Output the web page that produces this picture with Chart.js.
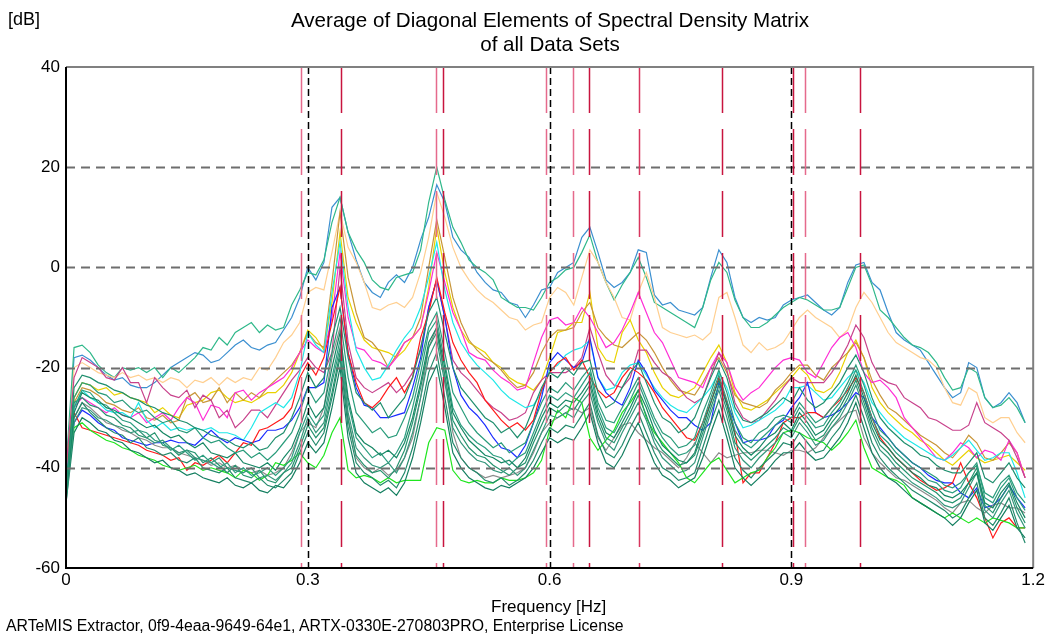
<!DOCTYPE html>
<html>
<head>
<meta charset="utf-8">
<script src="https://cdn.jsdelivr.net/npm/chart.js@4.4.0/dist/chart.umd.min.js"></script>
<style>
  body { margin: 0; background: #fff; font-family: "Liberation Sans", Arial, sans-serif; }
  #wrap { position: relative; width: 1047px; height: 637px; }
  #psd { position: absolute; left: 0; top: 0; }
  .txt { position: absolute; color: #000; white-space: nowrap; }
  #title { left: 0; width: 1100px; top: 8px; text-align: center; font-size: 20.6px; line-height: 24px; }
  #unit { left: 8px; top: 9px; font-size: 18px; }
  #xlabel { left: 491px; top: 597px; font-size: 17px; }
  #footer { left: 6px; top: 617px; font-size: 15.8px; }
</style>
</head>
<body>
<div id="wrap">
  <canvas id="psd" width="1047" height="637"></canvas>
  <div class="txt" id="title">Average of Diagonal Elements of Spectral Density Matrix<br>of all Data Sets</div>
  <div class="txt" id="unit">[dB]</div>
  <div class="txt" id="xlabel">Frequency [Hz]</div>
  <div class="txt" id="footer">ARTeMIS Extractor, 0f9-4eaa-9649-64e1, ARTX-0330E-270803PRO, Enterprise License</div>
</div>
<script>
// frequency grid [Hz]
const freqs = [
  0, 0.01, 0.02, 0.03, 0.04, 0.05, 0.06, 0.07, 0.08, 0.09,
  0.10, 0.11, 0.12, 0.13, 0.14, 0.15, 0.16, 0.17, 0.18, 0.19,
  0.20, 0.21, 0.22, 0.23, 0.24, 0.25, 0.26, 0.27, 0.28, 0.29,
  0.30, 0.31, 0.32, 0.33, 0.34, 0.35, 0.36, 0.37, 0.38, 0.39,
  0.40, 0.41, 0.42, 0.43, 0.44, 0.45, 0.46, 0.47, 0.48, 0.49,
  0.50, 0.51, 0.52, 0.53, 0.54, 0.55, 0.56, 0.57, 0.58, 0.59,
  0.60, 0.61, 0.62, 0.63, 0.64, 0.65, 0.66, 0.67, 0.68, 0.69,
  0.70, 0.71, 0.72, 0.73, 0.74, 0.75, 0.76, 0.77, 0.78, 0.79,
  0.80, 0.81, 0.82, 0.83, 0.84, 0.85, 0.86, 0.87, 0.88, 0.89,
  0.90, 0.91, 0.92, 0.93, 0.94, 0.95, 0.96, 0.97, 0.98, 0.99,
  1.00, 1.01, 1.02, 1.03, 1.04, 1.05, 1.06, 1.07, 1.08, 1.09,
  1.10, 1.11, 1.12, 1.13, 1.14, 1.15, 1.16, 1.17, 1.18, 1.19
];

// spectral density per data set [dB]
const setBlueTop = [
  -42, -18, -17.5, -18.5, -20, -21.5, -22.5, -22, -23.5, -24,
  -24, -23, -21.5, -20, -19, -18, -17, -17.5, -19, -18.5,
  -17, -15.5, -14.5, -16, -16.5, -15.5, -15, -12.5, -10, -6,
  0, -2.5, 1, 12, 14, 7, 1.5, -3, -5, -6,
  -3, -1.5, -3, 0, 5.5, 10, 16.5, 13, 6, 3.5,
  2, -1, -3, -4.5, -5, -7, -7.5, -10, -7.5, -4.5,
  -4, -1, 0, 1, 6, 8, 3, -2.5, -4, -3,
  -1, 3.5, 3, -5.5, -7.5, -7, -8.5, -9, -9.5, -8,
  -2, 3.5, 1, -6, -10, -11, -10, -10.5, -10, -7.5,
  -6.5, -6, -5.5, -7, -8.5, -9.5, -8, -3, 0.5, 1,
  -3, -4.5, -9, -13, -14.5, -15.5, -16.5, -19, -21.5, -24,
  -26, -25, -19, -20, -26, -28, -27, -25, -27, -31
];
const setTealTop = [
  -40, -16, -15.5, -17, -19.5, -21, -22, -20, -20.5, -20,
  -21, -20, -22, -20, -21, -19.5, -18, -16, -16.5, -14,
  -15.5, -13, -12, -11, -13, -11.5, -12.5, -12, -7.5, -4.5,
  -1, -1.5, 1.5, 9, 14, 7, 3.5, 1, -2.5, -4,
  -4.5, -2, -1.5, -1, 3.5, 13, 20, 13.5, 8, 5,
  1.5, 0, -1, -2.5, -6, -7, -8, -8, -8.5, -6,
  -3, -2, -0.5, 0, 3, 6.5, 1, -3, -6.5, -3.5,
  -1, 2, -2, -7, -8, -9, -10, -11, -12, -8,
  -2.5, 1, -1, -6.5, -10, -12, -12, -11, -9.5, -8,
  -7, -6, -6.5, -7.5, -8.5, -8.5, -8, -4, 0, 0.5,
  -3.5, -8.5, -10, -12, -14, -15.5, -16, -17, -19, -22,
  -24.5, -24, -20, -21, -26, -28, -27.5, -26, -28, -31
];
const setPeach = [
  -42, -20, -19, -20, -21, -21.5, -22, -21, -22, -21.5,
  -22.5, -22, -23, -22, -22.5, -24, -22.5, -23, -22, -23.5,
  -22, -23, -22, -22.5, -20, -20.5, -18, -15, -13.5, -11,
  -5, -4, -4.5, 3, 11, 4, 1, -3, -8, -8.5,
  -7.5, -7, -8, -6, -1, 6, 15, 10, 4, 0,
  -2.5, -4.5, -6, -7, -8.5, -10, -10.5, -12.5, -11.5, -11,
  -6, -4, -5, -7.5, -2, 3.5, 1, -3, -6, -10,
  -10.5, -5, -1, -6, -12, -13, -13.5, -14, -13.5, -14.5,
  -13, -6, -5, -10, -15.5, -17, -15, -16.5, -16, -15,
  -12.5, -10, -8.5, -10, -11, -12, -14, -12.5, -8, -5,
  -7, -10, -13, -15, -16, -17, -18, -18.5, -20, -24,
  -27, -27.5, -24, -25, -30, -31, -30, -30, -33, -35
];
const setYellow = [
  -40, -26, -23, -23.5, -24.5, -24, -25.5, -25, -26, -26.5,
  -27, -29, -28, -29.5, -30, -27.5, -27, -26.5, -25, -24.5,
  -26, -27, -26.5, -27, -26, -25, -25, -23.5, -21, -17,
  -12.5, -14, -16.5, -7, 7, -6, -11, -14.5, -16, -16.5,
  -17, -18, -16.5, -14, -12, -4, 8, -1, -8, -12.5,
  -15, -16, -17, -19, -20, -22, -23, -23.5, -24.5, -22.5,
  -18, -13, -12.5, -11, -11, -5, -16, -18.5, -19, -13,
  -10.5, -14.5, -17, -21, -24, -25.5, -26, -25, -24, -21,
  -18, -15.5, -19, -25, -28, -28.5, -27.5, -26.5, -25, -23.5,
  -22, -20, -21.5, -24.5, -25, -24, -21, -17, -14.5, -18,
  -24, -27, -29, -30.5, -32, -33, -34.5, -35.5, -37, -38.5,
  -39.5, -38, -36.5, -38, -39, -38.5, -38, -37.5, -39, -40.5
];
const setGold = [
  -40, -27, -24, -24.5, -25.5, -27, -27.5, -28.5, -29, -28,
  -30, -30.5, -29.5, -31, -30.5, -26, -25, -27, -26.5, -24,
  -27, -25, -26.5, -25, -26, -24, -22.5, -21, -19.5, -17,
  -13, -15, -16, -3, 11, -2, -9, -14, -15, -17,
  -20, -17.5, -15, -14, -10, 0, 9.5, 2, -6, -11,
  -14.5, -16.5, -18, -19, -20.5, -22.5, -24, -23.5, -21, -17,
  -14, -12.5, -12.5, -12, -9, -7, -12, -14, -15.5, -16,
  -14.5, -13, -14.5, -17, -20, -22.5, -24.5, -25, -25.5, -23,
  -20, -18, -21, -25.5, -27, -27.5, -28, -27, -24.5, -23,
  -21, -19.5, -19.5, -21.5, -22.5, -20, -18.5, -17, -15, -18,
  -22.5, -25.5, -28, -29, -30.5, -32, -33.5, -34.5, -35.5, -37,
  -38, -36, -33.5, -35, -38, -38.5, -37, -35, -37, -42
];
const setMagenta = [
  -42, -28, -26, -27, -28, -29, -28, -29.5, -30, -29,
  -31, -30, -29, -30.5, -28, -26, -27, -30.5, -27.5, -28,
  -30, -25, -24.5, -26.5, -25, -24, -23, -22, -20, -17,
  -14.5, -16, -17, -10, 3, -10, -16, -16.5, -18.5, -19,
  -20, -18, -15, -14, -12, -5, 3, -3, -9, -12.5,
  -17, -18, -18.5, -20.5, -22, -23, -24.5, -24, -19, -14,
  -10.5, -10, -11.5, -11, -8, -10, -13, -16, -15, -12.5,
  -9, -5, -9, -13, -15, -18.5, -22, -22.5, -23, -24,
  -20, -17, -19, -24, -26.5, -25, -24, -22, -20, -18.5,
  -18, -18.5, -21, -22, -19, -16, -14, -13, -16, -21,
  -23, -22.5, -24, -26, -30, -32, -34, -36, -38, -38.5,
  -37, -35, -36, -38, -36.5, -37, -38.5, -34.5, -37, -42
];
const setPink = [
  -40, -22, -18, -19, -20, -22, -22.5, -20, -23, -23,
  -27, -22, -24, -25.5, -26, -24.5, -28, -25.5, -26.5, -30,
  -28.5, -32, -30.5, -28.5, -28.5, -30, -27.5, -25, -22.5, -20.5,
  -18, -20, -21, -17, 0, -15, -22, -24, -25, -24,
  -23, -25, -23.5, -21, -16.5, -8, -2.5, -10, -18.5, -21,
  -22.5, -24.5, -26.5, -28, -29, -30.5, -30, -29, -25, -22.5,
  -21, -21, -21, -20, -18, -12, -17, -21.5, -23.5, -24,
  -22, -16.5, -16.5, -19, -21, -22, -24, -26, -27, -26,
  -21.5, -17, -20.5, -27, -30, -31, -30.5, -28.5, -26.5, -24,
  -22, -23, -23, -23, -23, -21, -18.5, -15.5, -11.5, -14,
  -19, -22, -23, -23.5, -26, -27, -28, -30, -30.5, -31.5,
  -32.5, -32.5, -31.5, -27, -31, -32, -33, -34.5, -38, -42
];
const setCyan = [
  -44, -28, -24.5, -26, -27, -28.5, -29, -29, -30, -27,
  -30.5, -32, -31, -32.5, -32, -32.5, -32, -32.5, -32, -33,
  -33, -33.5, -34.5, -32, -29, -28, -27, -28, -26, -21,
  -13, -15.5, -17, -5, 5, -8, -16.5, -20, -22.5, -22,
  -19.5, -16.5, -14, -12, -8, -2, 5, -4.5, -11, -15,
  -17.5, -19.5, -21, -22.5, -24.5, -26, -27, -28, -27.5, -25,
  -20.5, -19.5, -17.5, -16.5, -16, -14.5, -22, -24.5, -24, -21,
  -19.5, -19, -21.5, -24, -26, -27.5, -28.5, -29, -27.5, -26,
  -24, -21, -24, -29, -32, -31.5, -30.5, -29.5, -28.5, -27,
  -24, -24, -23.5, -25, -26.5, -26, -24, -22, -20.5, -23,
  -27, -29, -31, -32.5, -34, -35, -36, -37, -38, -38.5,
  -37.5, -36, -34.5, -36.5, -38.5, -38, -37, -37, -41, -46
];
const setRed = [
  -45, -29, -32, -32.5, -33, -33.5, -34, -34.5, -35, -35.5,
  -36.5, -37, -37.5, -38.5, -38, -40.5, -39, -39.5, -38.5, -37.5,
  -39, -37, -35, -35.5, -32.5, -32, -31, -30, -28, -22,
  -19, -21.5, -18, -11, -4, -17, -23, -27, -28, -26.5,
  -24, -22, -25, -22, -14, -9, -2, -9, -15, -18.5,
  -21, -23, -26.5, -28.5, -30.5, -32, -31, -32.5, -30.5, -24.5,
  -21, -19, -18, -20.5, -18.5, -22, -24.5, -26, -25, -22,
  -20, -21, -22.5, -25, -28, -30, -32, -34, -34.5, -31,
  -27, -22, -27, -33, -43, -41, -41, -38, -35, -31,
  -30, -30, -29, -29, -30, -28, -26.5, -24.5, -22, -25,
  -30, -34, -36, -38, -39.5, -41, -42.5, -43.5, -44.5, -44,
  -43, -39, -43, -46, -50, -54, -51, -50, -52, -52
];
const setBlue = [
  -45, -31, -28.5, -29.5, -31, -32, -32.5, -34, -34.5, -35,
  -35.5, -35, -35, -34.5, -35, -35, -35.5, -34, -32.5, -34,
  -35, -34, -34.5, -35, -34.5, -32.5, -32.5, -32, -30.5, -28,
  -24, -24, -23, -8, -4, -17, -24, -27.5, -28, -30,
  -30, -29.5, -29, -24, -18, -8, -2.5, -10, -20, -25.5,
  -28, -29.5, -31.5, -34, -36, -36.5, -38, -35.5, -31, -26,
  -19, -17, -18.5, -20, -19, -14, -22, -25, -26.5, -27.5,
  -24, -18.5, -21, -24.5, -26.5, -28.5, -30, -30, -31.5, -32.5,
  -31, -23, -27, -31, -35, -34.5, -34.5, -34, -31.5, -30.5,
  -28, -26, -23, -29, -30, -29.5, -28.5, -27, -25, -26,
  -30, -32, -34, -36, -37.5, -39, -40, -41.5, -42.5, -43,
  -43, -45, -46, -44, -48, -47.5, -46, -43.5, -46, -48
];
const setGray = [
  -45, -30, -27, -28, -29.5, -31, -31.5, -32.5, -33, -34,
  -34.5, -35.5, -36, -36, -37, -37.5, -38, -38.5, -39.5, -39,
  -40, -39.5, -40.5, -41, -40.5, -41.5, -41, -40, -37, -33,
  -31, -32, -28, -18, -12, -30, -38, -40, -41, -40,
  -41.5, -40.5, -38, -34, -26, -16, -12, -22, -33, -38,
  -40, -41, -42, -41.5, -42, -41.5, -41, -40, -37, -33,
  -31, -30, -29, -28, -29, -28, -34, -36.5, -34, -31.5,
  -31, -33, -34.5, -36, -37, -38.5, -40, -38, -35, -37,
  -39, -37, -38, -37.5, -37, -37, -36.5, -36.5, -37, -37.5,
  -36.5, -36.5, -37, -36, -34, -32, -30.5, -29, -28.5, -34,
  -37, -39, -40.5, -42, -42.5, -43.5, -44.5, -45.5, -46.5, -48,
  -49, -47, -46.5, -48, -49, -47.5, -47, -48, -48, -49
];
const setLime = [
  -45, -32, -31, -32.5, -33.5, -34.5, -35, -36, -36.5, -37.5,
  -38, -38.5, -39.5, -40, -40.5, -40, -39.5, -40.5, -40, -40.5,
  -41, -42, -40.5, -41, -42.5, -41.5, -39, -39.5, -38.5, -37,
  -39, -40, -37.5, -33, -30, -40.5, -42, -41.5, -42, -43,
  -42, -43, -42.5, -42.5, -42.5, -35, -32, -32.5, -40.5, -42.5,
  -43, -42.5, -43, -43, -42, -42.5, -42.5, -42, -41, -38.5,
  -32.5, -28.5, -30, -26, -27, -34, -36.5, -34.5, -32.5, -29,
  -27, -24.5, -30, -33, -35, -37, -39, -42, -43, -41,
  -39, -38, -40.5, -43, -42, -41, -40.5, -38, -36, -33,
  -32.5, -33, -34, -34.5, -35, -36.5, -35, -33, -30.5, -36,
  -40, -41, -42, -42.5, -43.5, -46, -47, -48, -49, -50,
  -49, -50, -51, -50, -51, -50, -50.5, -51, -52, -52
];
const setGreen1 = [
  -44, -24, -21.5, -22, -23, -23.5, -24.5, -25, -26, -26.5,
  -27.5, -28, -29, -29.5, -30.5, -31, -32, -32.5, -33.5, -34,
  -34.5, -35.5, -36, -35, -36.5, -36, -34, -33, -30, -26,
  -21, -24, -22, -14, -8, -18, -25, -27, -28.5, -27,
  -30, -28, -26, -22, -16, -9, -6, -13, -20, -24,
  -26, -28, -30, -31, -33, -32, -34, -32, -28, -24,
  -21, -22, -20, -21.5, -19, -18.5, -25, -28, -27, -24,
  -21, -19, -23, -27, -30, -31, -33, -32, -30, -26,
  -22, -18.5, -22, -28, -30.5, -31, -30, -29, -27.5, -26,
  -27, -24, -26.5, -28, -27, -25, -23, -20, -17.5, -21,
  -26, -30, -32, -33.5, -35, -36, -37.5, -38, -39.5, -40.5,
  -41, -41, -39, -37, -42, -43, -41, -39, -42, -44
];
const setGreen2 = [
  -45, -26, -23, -23.5, -25, -25.5, -27, -26.5, -28, -29,
  -28.5, -30, -31, -30.5, -32.5, -33, -32, -34, -35, -34.5,
  -36, -37, -36.5, -38, -37, -38.5, -37, -35, -33, -29,
  -24, -27, -25, -17, -10, -22, -29, -31, -33, -32,
  -34, -33.5, -30, -26, -19, -12, -9, -17, -25, -28,
  -31, -33, -34.5, -36, -35, -37, -36, -35, -31, -27,
  -24, -25, -23, -24.5, -22, -20, -27, -30.5, -31, -28,
  -25, -22, -26, -30, -33, -34, -36, -35.5, -34, -29,
  -25, -20.5, -25, -31, -34, -35, -33, -32, -30, -29.5,
  -30, -27, -29, -31, -30, -28, -26, -23, -19.5, -23.5,
  -28.5, -32.5, -34, -36, -37.5, -39, -40, -41, -42, -43.5,
  -44, -43, -41, -39.5, -45, -46, -43, -41.5, -45, -47
];
const setGreen3 = [
  -46, -29, -25, -26, -26.5, -28, -28.5, -29.5, -30, -31,
  -32, -31.5, -33, -34, -33.5, -35, -36, -35, -37, -37.5,
  -38, -37, -39, -39.5, -40, -39, -40.5, -38, -36, -32,
  -27, -30, -28, -20, -13, -26, -33, -35, -36, -37.5,
  -36.5, -38, -35, -30, -23, -15, -12, -20, -29, -32,
  -34.5, -36, -37.5, -38, -39, -38.5, -40, -38, -34, -30,
  -27, -28, -26.5, -27, -25, -22.5, -29, -33, -34, -31,
  -28, -24.5, -28, -32.5, -35.5, -37, -38.5, -39, -37, -32,
  -27, -22.5, -27.5, -33.5, -36, -37.5, -36, -34, -33, -31,
  -32.5, -29, -31, -33.5, -32.5, -30, -28, -25, -21.5, -26,
  -31, -34.5, -36, -38, -39.5, -41, -42, -43.5, -44, -45.5,
  -46, -45, -43, -41, -47, -48, -45, -43, -47, -50
];
const setGreen4 = [
  -47, -31, -28, -28.5, -30, -30.5, -31.5, -32, -33, -32.5,
  -34, -35, -34.5, -36, -37, -36.5, -38, -38.5, -39, -38,
  -40, -40.5, -41, -40, -42, -41.5, -42.5, -41, -39, -35,
  -30, -33, -31, -23, -16, -29, -36, -38, -39.5, -40,
  -39, -41, -38, -33, -26, -18, -14.5, -23, -32, -35,
  -37, -38.5, -39, -40.5, -41, -40, -41.5, -40, -36.5, -33,
  -29.5, -30, -29, -30, -27, -25, -31, -35, -36.5, -33,
  -30, -27, -30.5, -35, -38, -39.5, -41, -40.5, -39, -34,
  -29, -24.5, -30, -36, -38.5, -40, -38, -36.5, -35, -33,
  -34, -31, -33, -35.5, -34.5, -32, -30, -27, -23.5, -28,
  -33, -36.5, -38, -40, -41.5, -43, -44, -45, -46, -47.5,
  -48, -47, -44, -41, -48.5, -50, -47, -44.5, -49, -52
];
const setGreen5 = [
  -46, -30, -27, -29, -30.5, -32, -33, -33.5, -35, -34,
  -36, -36.5, -37.5, -37, -38.5, -39, -38, -40, -40.5, -41,
  -40, -42, -42.5, -43, -42, -43.5, -44, -42.5, -41, -37,
  -33, -35.5, -33, -26, -18, -32, -39, -41, -42, -43.5,
  -42.5, -44, -41, -36, -29, -21, -17, -26, -35, -38,
  -40, -41, -42.5, -43, -42, -43.5, -42.5, -41, -38.5, -35,
  -32, -33, -31.5, -32, -29.5, -27, -33.5, -37, -38, -35.5,
  -32, -29, -33, -37, -40, -41, -42.5, -42, -41, -36,
  -31, -26.5, -32, -38, -40.5, -42, -40, -38.5, -37, -35,
  -35.5, -33, -35, -37, -36.5, -34, -32, -29, -25.5, -30,
  -35, -38, -40, -41.5, -43, -44.5, -45.5, -46.5, -47.5, -48.5,
  -50, -49, -46, -43, -50, -51.5, -49, -46, -51, -55
];
const setGreen6 = [
  -45, -28, -24.5, -25, -27, -27.5, -29, -30.5, -31, -32.5,
  -33, -34.5, -35, -36.5, -35.5, -37, -38.5, -37.5, -39, -40,
  -39, -41, -40, -41.5, -41, -40, -41.5, -40, -38, -33,
  -29, -31.5, -29.5, -22, -14.5, -27, -34, -36, -38, -37,
  -39, -37, -34, -28, -21, -13, -10.5, -19, -28, -31.5,
  -33.5, -35, -36, -37.5, -38, -39.5, -38, -37, -33, -29,
  -25.5, -26.5, -25, -26, -23.5, -21, -28, -32, -33, -30,
  -26.5, -23, -27, -31, -34, -36, -37.5, -37, -35.5, -31,
  -26, -21.5, -26.5, -32.5, -35, -36, -34.5, -33, -31.5, -30,
  -31, -28, -30, -32, -31.5, -29, -27, -24, -20.5, -25,
  -30, -33.5, -35, -37, -38.5, -40, -41, -42.5, -43, -44.5,
  -45, -44, -41, -39, -46, -47, -44, -42, -46, -48.5
];
const setGreen7 = [
  -47, -33, -30, -31, -32.5, -33, -34.5, -35, -36.5, -37,
  -38, -39, -38.5, -40, -40.5, -41.5, -41, -42, -42.5, -43,
  -42, -43.5, -44, -43, -44.5, -45, -43.5, -44, -42, -39,
  -35, -37, -35, -28, -20, -34, -41, -43, -44, -45,
  -44, -45.5, -43, -38, -31, -23, -19.5, -28, -37, -40,
  -42, -43, -44, -44.5, -43.5, -44, -43, -42, -40, -37,
  -34, -35, -34, -34.5, -32, -29, -35, -39, -40, -37.5,
  -34, -31, -35, -39, -41.5, -42.5, -44, -43, -42, -38,
  -33, -28.5, -34, -40, -42, -43.5, -42, -40.5, -38.5, -37,
  -37, -35, -37, -38.5, -38, -36, -34, -31, -27, -32,
  -37, -40, -42, -43, -44.5, -46, -47, -48, -49, -50,
  -51.5, -50, -47, -44.5, -51, -52.5, -50, -47.5, -52, -54
];
const setGreen8 = [
  -46, -27, -26, -27.5, -28, -29.5, -30, -31.5, -32, -33.5,
  -34, -33, -35.5, -36, -37.5, -36.5, -37, -39, -38, -39.5,
  -41, -39.5, -41.5, -42, -40.5, -42.5, -43, -41, -40, -36,
  -31.5, -34, -32, -25, -17, -30.5, -37.5, -39.5, -41, -40.5,
  -42, -40, -36.5, -31, -24, -16, -13, -21.5, -30.5, -33.5,
  -36, -37.5, -38, -39.5, -40.5, -41.5, -40, -39, -35, -31.5,
  -28, -29, -27.5, -28.5, -26, -23.5, -30, -34, -35, -32,
  -29, -25.5, -29.5, -34, -36.5, -38, -39.5, -39, -37.5, -33,
  -28, -23.5, -28.5, -35, -37, -38.5, -37, -35.5, -34, -32,
  -33, -30, -32, -34.5, -33.5, -31, -29, -26, -22.5, -27,
  -32, -35.5, -37, -39, -40.5, -42, -43, -44, -45, -46.5,
  -47, -46, -43, -40, -47.5, -49, -46, -43.5, -48, -51
];

// picked peak frequencies [Hz] and their marker colours
const peakFreqs  = [0.2913, 0.3408, 0.4587, 0.4677, 0.595, 0.6285, 0.6483, 0.7115, 0.8133, 0.9025, 0.9174, 0.9855];
const peakColors = ['#e56a8c', '#c8143f', '#e56a8c', '#c8143f', '#e56a8c', '#e56a8c', '#c8143f', '#d8365e', '#c8143f', '#c8143f', '#e56a8c', '#c8143f'];

const gridDb = [20, 0, -20, -40];
const gridHz = [0.3, 0.6, 0.9];

// drawn first in the list = on top
const sets = [
  [setGreen1, '#1f8f6e'], [setGreen2, '#2a9c7b'], [setGreen3, '#168764'], [setGreen4, '#35977c'],
  [setGreen5, '#238a6c'], [setGreen6, '#2d9e80'], [setGreen7, '#147f60'], [setGreen8, '#26946f'],
  [setLime, '#1fe61f'], [setGray, '#8c8c8c'], [setRed, '#ff1a1a'], [setBlue, '#1a2cff'],
  [setCyan, '#1fe8e8'], [setPink, '#c8428c'], [setMagenta, '#ff2ed6'], [setGold, '#c89538'],
  [setYellow, '#e9d200'], [setPeach, '#ffcf90'], [setTealTop, '#2fb88a'], [setBlueTop, '#3b8fd0']
];

const datasets = sets.map(([vals, col]) => ({
  data: freqs.map((f, i) => ({ x: f, y: vals[i] })),
  borderColor: col,
  borderWidth: 1.2,
  pointRadius: 0,
  fill: false,
  tension: 0
}));

// grid, frame and peak markers on top of the curves
const overlay = {
  id: 'overlay',
  afterDatasetsDraw(chart) {
    const { ctx, chartArea: a, scales: { x, y } } = chart;
    ctx.save();

    ctx.lineWidth = 2;
    ctx.strokeStyle = '#6e6e6e';
    ctx.setLineDash([9, 6]);
    gridDb.forEach(v => {
      const py = Math.round(y.getPixelForValue(v)) + 0.5;
      ctx.beginPath(); ctx.moveTo(a.left, py); ctx.lineTo(a.right, py); ctx.stroke();
    });

    ctx.lineWidth = 1.5;
    ctx.strokeStyle = '#000';
    ctx.setLineDash([7, 4]);
    gridHz.forEach(f => {
      const px = Math.round(x.getPixelForValue(f)) + 0.5;
      ctx.beginPath(); ctx.moveTo(px, a.top); ctx.lineTo(px, a.bottom); ctx.stroke();
    });

    ctx.lineWidth = 1.5;
    ctx.setLineDash([46, 16]);
    peakFreqs.forEach((f, i) => {
      const px = Math.round(x.getPixelForValue(f)) + 0.5;
      ctx.strokeStyle = peakColors[i];
      ctx.beginPath(); ctx.moveTo(px, a.top); ctx.lineTo(px, a.bottom); ctx.stroke();
    });

    ctx.setLineDash([]);
    ctx.lineWidth = 2;
    ctx.strokeStyle = '#808080';
    ctx.beginPath(); ctx.moveTo(a.left, a.top); ctx.lineTo(a.right, a.top); ctx.lineTo(a.right, a.bottom); ctx.stroke();
    ctx.strokeStyle = '#000';
    ctx.beginPath(); ctx.moveTo(a.left, a.top); ctx.lineTo(a.left, a.bottom); ctx.lineTo(a.right, a.bottom); ctx.stroke();
    ctx.restore();
  }
};

const tickFont = { family: '"Liberation Sans", Arial, sans-serif', size: 17 };

const config = {
  type: 'line',
  data: { datasets },
  options: {
    responsive: false,
    animation: false,
    layout: { padding: { left: 0, right: 13, top: 67, bottom: 0 } },
    plugins: { legend: { display: false }, tooltip: { enabled: false } },
    scales: {
      x: {
        type: 'linear',
        min: 0,
        max: 1.2,
        grid: { display: false, drawTicks: false },
        border: { display: false },
        ticks: {
          stepSize: 0.3,
          color: '#000',
          padding: 2,
          font: tickFont,
          callback: v => String(Math.round(v * 10) / 10)
        },
        afterFit: s => { s.height = 69; }
      },
      y: {
        min: -60,
        max: 40,
        grid: { display: false, drawTicks: false },
        border: { display: false },
        ticks: {
          stepSize: 20,
          color: '#000',
          padding: 6,
          font: tickFont
        },
        afterFit: s => { s.width = 66; }
      }
    }
  },
  plugins: [overlay]
};

const psdChart = new Chart(document.getElementById('psd'), config);
</script>
</body>
</html>
